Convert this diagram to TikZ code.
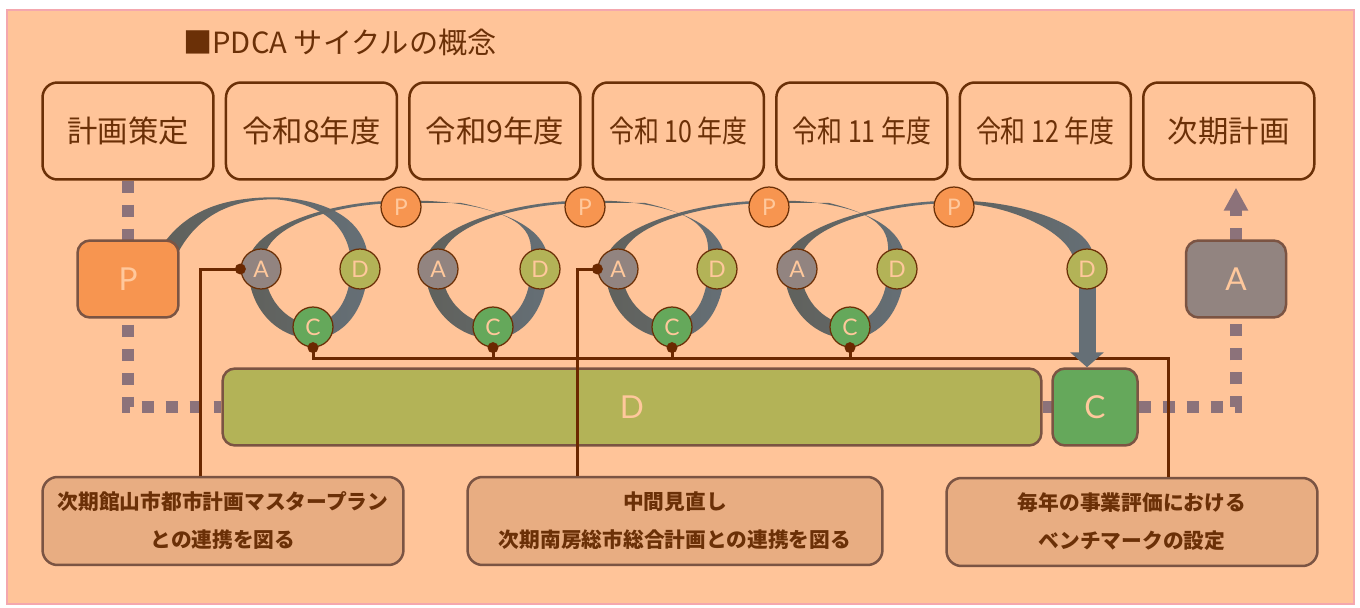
\documentclass[tikz,border=0pt]{standalone}
\usepackage{fontspec}
\setmainfont{Noto Sans CJK JP}
\newfontfamily\pdcafont{Lato}
\usepackage{graphicx}
\definecolor{pdca_bg}{RGB}{255, 196, 153}
\definecolor{pdca_pink}{RGB}{244, 167, 174}
\definecolor{pdca_dark}{RGB}{107, 48, 7}
\definecolor{pdca_edge}{RGB}{123, 84, 67}
\definecolor{pdca_orange}{RGB}{247, 149, 80}
\definecolor{pdca_gray}{RGB}{146, 132, 128}
\definecolor{pdca_olive}{RGB}{179, 179, 87}
\definecolor{pdca_green}{RGB}{101, 168, 91}
\definecolor{pdca_tan}{RGB}{232, 173, 130}
\definecolor{pdca_band_l}{RGB}{96, 97, 92}
\definecolor{pdca_band_r}{RGB}{101, 111, 118}
\definecolor{pdca_dot}{RGB}{140, 114, 122}
\definecolor{pdca_link}{RGB}{107, 40, 0}
\definecolor{pdca_letter}{RGB}{255, 200, 156}
\usepackage{tikz}
\usetikzlibrary{arrows.meta, positioning, calc, backgrounds}
\newcommand{\narrowyr}[1]{\scalebox{0.82}[1]{#1}}

\begin{document}
\begin{tikzpicture}[
        x=0.02cm, y=-0.02cm,
        yearbox/.style={rectangle, rounded corners=0.3cm, draw=pdca_dark,
                        line width=0.05cm, minimum width=3.42cm, minimum height=1.94cm,
                        inner sep=0pt, text=pdca_dark, font=\fontsize{17.3}{20}\selectfont},
        phase/.style={rectangle, rounded corners=0.25cm, draw=pdca_edge,
                      line width=0.05cm, minimum height=1.54cm, inner sep=0pt,
                      text=pdca_letter, font=\pdcafont\fontsize{18}{20}\selectfont},
        stepcirc/.style={circle, draw=pdca_dark, line width=0.025cm, minimum size=0.8cm,
                         inner sep=0pt, text=pdca_letter,
                         font=\pdcafont\fontsize{13}{14}\selectfont},
        callout/.style={rectangle, rounded corners=0.3cm, draw=pdca_edge, fill=pdca_tan,
                        line width=0.05cm, minimum height=1.76cm, align=center,
                        text=pdca_dark, font=\bfseries\fontsize{11.8}{21.6}\selectfont},
        band/.style={left color=pdca_band_l, right color=pdca_band_r},
        dotline/.style={draw=pdca_dot, line width=0.23cm, dash pattern=on 0.24cm off 0.24cm},
        link/.style={draw=pdca_link, line width=0.06cm},
      ]
        \useasboundingbox (0,0) rectangle (1360,608);

        \node[anchor=west, inner sep=0pt, text=pdca_dark,
              font=\fontsize{16.6}{18}\selectfont] (title) at (183,42) {■PDCA サイクルの概念};

        % years
        \node[yearbox] (b1) at (128,131) {計画策定};
        \node[yearbox, right=0.2cm of b1] (b2) {令和8年度};
        \node[yearbox, right=0.2cm of b2] (b3) {令和9年度};
        \node[yearbox, right=0.2cm of b3] (b4) {\narrowyr{令和 10 年度}};
        \node[yearbox, right=0.2cm of b4] (b5) {\narrowyr{令和 11 年度}};
        \node[yearbox, right=0.2cm of b5] (b6) {\narrowyr{令和 12 年度}};
        \node[yearbox, right=0.2cm of b6] (b7) {次期計画};

        % big phases
        \node[phase, fill=pdca_orange, minimum width=2.02cm] (Pbox) at (128,279) {P};
        \node[phase, fill=pdca_gray,   minimum width=2cm]    (Abox) at (1236,279) {A};
        \node[phase, fill=pdca_olive,  minimum width=16.38cm] (Dbar) at (632,407) {D};
        \node[phase, fill=pdca_green,  minimum width=1.7cm]  (Cbox) at (1095,407) {C};
        \coordinate (P0) at (Pbox.north east);

        % yearly cycles
        \node[stepcirc, fill=pdca_orange] (P1) at (401,207) {P};
        \node[stepcirc, fill=pdca_orange] (P2) at (585,207) {P};
        \node[stepcirc, fill=pdca_orange] (P3) at (769,207) {P};
        \node[stepcirc, fill=pdca_orange] (P4) at (954,207) {P};
        \node[stepcirc, fill=pdca_gray] (A1) at (261,269) {A};
        \node[stepcirc, fill=pdca_gray] (A2) at (438,269) {A};
        \node[stepcirc, fill=pdca_gray] (A3) at (618,269) {A};
        \node[stepcirc, fill=pdca_gray] (A4) at (797,269) {A};
        \node[stepcirc, fill=pdca_olive] (D1) at (360,269) {D};
        \node[stepcirc, fill=pdca_olive] (D2) at (540,269) {D};
        \node[stepcirc, fill=pdca_olive] (D3) at (717,269) {D};
        \node[stepcirc, fill=pdca_olive] (D4) at (897,269) {D};
        \node[stepcirc, fill=pdca_olive] (D5) at (1087,269) {D};
        \node[stepcirc, fill=pdca_green] (C1) at (313,327) {C};
        \node[stepcirc, fill=pdca_green] (C2) at (493,327) {C};
        \node[stepcirc, fill=pdca_green] (C3) at (672,327) {C};
        \node[stepcirc, fill=pdca_green] (C4) at (850,327) {C};

        % notes
        \node[callout, minimum width=7.22cm] (n1) at (223,521)
          {次期館山市都市計画マスタープラン\\との連携を図る};
        \node[callout, minimum width=8.3cm] (n2) at (675,521)
          {中間見直し\\次期南房総市総合計画との連携を図る};
        \node[callout, minimum width=7.42cm] (n3) at (1132,522)
          {毎年の事業評価における\\ベンチマークの設定};

        \begin{scope}[on background layer]
          \fill[white] (0,0) rectangle (1360,608);
          \draw[draw=pdca_pink, fill=pdca_bg, line width=0.04cm] (7,10) rectangle (1354,604);
          \draw[dotline] (b1.south) -- (b1.south |- Dbar.west) -- (Dbar.west);
          \draw[dotline, -{Triangle[width=0.46cm, length=0.46cm]}]
            (Dbar.east) -- (Abox.south |- Dbar.east) -- ($(Abox |- b7.south)+(0,7)$);
          % spiral band
          \shade[band] ($(P0)+(-16,4)$) .. controls ($(P0)+(11,-33)$) and ($(P0)+(51,-42)$) .. ($(P0)+(96,-42)$)
            .. controls ($(D1)+(-25,-69)$) and ($(D1)+(8,-44)$) .. ($(D1)+(8,-7)$)
            .. controls ($(D1)+(8,41)$) and ($(C1)+(30,11)$) .. ($(C1)+(0,12)$)
            -- ($(C1)+(0,-3)$)
            .. controls ($(C1)+(22,-5)$) and ($(D1)+(-9,31)$) .. ($(D1)+(-9,-4)$)
            .. controls ($(D1)+(-9,-30)$) and ($(D1)+(-24,-64)$) .. ($(P0)+(96,-40)$)
            .. controls ($(P0)+(61,-40)$) and ($(P0)+(21,-30)$) .. ($(P0)+(-2,14)$) -- cycle;
          \foreach \i/\s in {2/P1,3/P2,4/P3}
            \shade[band] ($(\s)+(0,-6)$) .. controls ($(\s)+(60,-9)$) and ($(D\i)+(8,-54)$) .. ($(D\i)+(8,-7)$)
              .. controls ($(D\i)+(8,41)$) and ($(C\i)+(30,11)$) .. ($(C\i)+(0,12)$)
              -- ($(C\i)+(0,-3)$)
              .. controls ($(C\i)+(22,-5)$) and ($(D\i)+(-9,31)$) .. ($(D\i)+(-9,-4)$)
              .. controls ($(D\i)+(-9,-30)$) and ($(D\i)+(-2,-50)$) .. ($(\s)+(60,-4)$)
              .. controls ($(\s)+(40,-4)$) and ($(\s)+(20,-4)$) .. ($(\s)+(0,-4)$) -- cycle;
          \foreach \i in {1,...,4}
            \shade[band] ($(C\i)+(0,12)$) .. controls ($(C\i)+(-35,11)$) and ($(A\i)+(-13,41)$) .. ($(A\i)+(-13,-4)$)
              .. controls ($(A\i)+(-13,-44)$) and ($(P\i)+(-60,-8)$) .. ($(P\i)+(0,-6)$)
              -- ($(P\i)+(0,-4)$)
              .. controls ($(P\i)+(-60,-4)$) and ($(A\i)+(-6,-44)$) .. ($(A\i)+(4,-1)$)
              .. controls ($(A\i)+(4,36)$) and ($(C\i)+(-20,-3)$) .. ($(C\i)+(0,-2)$) -- cycle;
          \shade[band] ($(P4)+(0,-6)$) .. controls ($(P4)+(60,-8)$) and ($(D5)+(6,-45)$) .. ($(D5)+(6,-12)$)
            -- ($(D5)+(-14,-12)$)
            .. controls ($(D5)+(-20,-35)$) and ($(P4)+(60,-3)$) .. ($(P4)+(0,-4)$) -- cycle;
          \fill[pdca_band_r] ($(D5)+(-8.5,-12)$) rectangle ($(D5)+(8.5,25)$);
        \end{scope}

        % links to notes
        \draw[link] (A1.west) -| ($(n1.north)+(-23,0)$);
        \draw[link] (A3.west) -| ($(n2.north)+(-98,0)$);
        \draw[link] ($(n3.north)+(36,0)$) |- ($(C1.south)+(0,11)$) -- (C1.south);
        \draw[link] (C2.south) -- ++(0,11);
        \draw[link] (C3.south) -- ++(0,11);
        \draw[link] (C4.south) -- ++(0,11);
        \fill[pdca_link] (A1.west) circle (0.11cm);
        \fill[pdca_link] (A3.west) circle (0.11cm);
        \fill[pdca_link] (C1.south) circle (0.11cm);
        \fill[pdca_link] (C2.south) circle (0.11cm);
        \fill[pdca_link] (C3.south) circle (0.11cm);
        \fill[pdca_link] (C4.south) circle (0.11cm);

        \draw[draw=pdca_band_r, line width=0.34cm, -{Triangle[width=0.66cm, length=0.3cm]}]
          (D5.south) -- (D5 |- Cbox.north);
      \end{tikzpicture}
\end{document}
